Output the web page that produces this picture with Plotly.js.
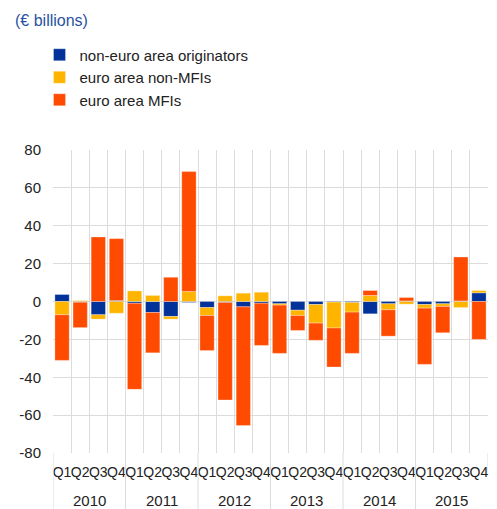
<!DOCTYPE html>
<html>
<head>
<meta charset="utf-8">
<script src="https://cdn.plot.ly/plotly-3.0.1.min.js"></script>
<style>html,body{margin:0;padding:0;background:#fff;}#chart{width:497px;height:509px;}</style>
</head>
<body>
<div id="chart"></div>
<script>
const years = ["2010","2011","2012","2013","2014","2015"];
const quarters = ["Q1","Q2","Q3","Q4"];
const nonEuroOriginators = [3.7,-0.4,-7.0,0.5, -0.9,-5.8,-7.9,-0.5, -3.2,-0.5,-2.8,-0.9, -1.2,-4.6,-1.6,-0.3, -0.5,-6.5,-1.2,0.3, -1.6,-1.2,0.3,4.6];
const euroNonMFIs = [-7.0,0.5,-2.3,-6.2, 5.6,3.2,-1.4,5.3, -4.2,3.0,4.4,4.9, -0.7,-2.8,-9.8,-13.7, -5.1,3.2,-3.2,-1.4, -1.9,-1.4,-3.2,1.2];
const euroMFIs = [-24.1,-13.4,34.1,32.7, -45.5,-21.3,12.8,63.3, -18.5,-51.5,-62.7,-22.3, -25.5,-7.9,-9.1,-20.6, -21.8,2.6,-13.9,1.8, -29.7,-13.9,23.2,-20.0];
const seriesNames = ["non-euro area originators","euro area non-MFIs","euro area MFIs"];
const seriesColors = ["#003299","#ffb400","#ff4b00"];
const yTicks = [-80,-60,-40,-20,0,20,40,60,80];

const cats = [], qLabels = [];
years.forEach(y => quarters.forEach(q => { cats.push(y + " " + q); qLabels.push(q); }));

const data = [nonEuroOriginators, euroNonMFIs, euroMFIs].map((vals, i) => ({
  type: "bar",
  x: cats,
  y: vals,
  name: seriesNames[i],
  marker: {color: seriesColors[i], line: {color: "rgba(255,255,255,0.6)", width: 0.5}},
  hoverinfo: "skip"
}));

const nq = quarters.length;
const annotations = [{text: "(€ billions)", xref: "paper", yref: "paper", x: -0.092, y: 1.429, xanchor: "left", yanchor: "middle",
                 showarrow: false, font: {size: 16, color: "#2a52a3"}}];
const shapes = [];
years.forEach((y, i) => {
  annotations.push({text: y, xref: "x", yref: "paper", x: i * nq + (nq - 1) / 2, y: -0.157, xanchor: "center", yanchor: "middle",
                    showarrow: false, font: {size: 15, color: "#222"}});
  shapes.push({type: "line", xref: "x", yref: "paper", x0: i * nq - 0.5, x1: i * nq - 0.5, y0: 0, y1: -0.19,
               line: {color: "#dcdcdc", width: 1}});
});
shapes.push({type: "line", xref: "x", yref: "paper", x0: cats.length - 0.5, x1: cats.length - 0.5, y0: 0, y1: -0.065,
             line: {color: "#dcdcdc", width: 1}});

const layout = {
  width: 497, height: 509,
  margin: {l: 53, r: 9, t: 150, b: 56},
  paper_bgcolor: "#fff", plot_bgcolor: "#fff",
  barmode: "relative",
  bargap: 0.21,
  font: {family: "Liberation Sans, Arial, sans-serif", size: 14, color: "#222"},
  showlegend: true,
  legend: {x: -0.031, xanchor: "left", y: 1.368, yanchor: "top", orientation: "v",
           font: {size: 15, color: "#222"}, traceorder: "normal", bgcolor: "rgba(0,0,0,0)", tracegroupgap: 0},
  xaxis: {type: "category", tickson: "boundaries", tickmode: "array", tickvals: cats, ticktext: qLabels,
          showgrid: true, gridcolor: "#dcdcdc", tickangle: 0, ticklabelstandoff: 9,
          tickfont: {size: 14, color: "#222"}, showline: false, ticks: "", fixedrange: true,
          range: [-0.5, cats.length - 0.5]},
  yaxis: {range: [-80, 80], tickvals: yTicks, ticktext: yTicks.map(String), showgrid: true, gridcolor: "#dcdcdc",
          zeroline: false, tickfont: {size: 15, color: "#222"}, ticks: "", ticklabelstandoff: 11, fixedrange: true},
  annotations: annotations,
  shapes: shapes
};

Plotly.newPlot("chart", data, layout, {displayModeBar: false, staticPlot: true});
</script>
</body>
</html>
